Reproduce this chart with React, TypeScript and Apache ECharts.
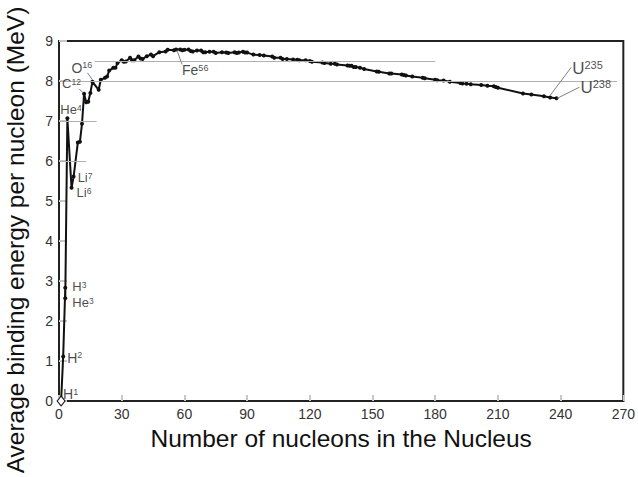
import React, { useEffect, useRef } from "react";
import * as echarts from "echarts";

// Mass number A of common nuclides and their average binding energy per nucleon (MeV)
const massNumber = [
  1, 2, 3, 3, 4, 6, 7, 9, 10, 11, 12, 13, 14, 15, 16, 19, 20, 22, 23, 24, 26, 27, 28, 30, 31, 32, 34, 35, 36, 38,
  39, 40, 42, 44, 45, 48, 51, 52, 55, 56, 58, 59, 60, 62, 63, 64, 66, 68, 69, 70, 72, 74, 75, 78, 80, 81, 84, 85,
  86, 88, 89, 90, 93, 96, 98, 102, 103, 106, 107, 109, 112, 114, 115, 118, 120, 121, 126, 127, 130, 132, 133, 138,
  139, 140, 141, 142, 144, 146, 152, 153, 158, 159, 164, 165, 166, 169, 174, 175, 180, 181, 184, 187, 192, 193, 195,
  197, 202, 205, 208, 209, 210, 222, 226, 232, 235, 238,
];
const bindingEnergy = [
  0, 1.11, 2.83, 2.57, 7.07, 5.33, 5.61, 6.46, 6.48, 6.93, 7.68, 7.47, 7.48, 7.7, 7.98, 7.78, 8.03, 8.08, 8.11, 8.26,
  8.33, 8.33, 8.45, 8.52, 8.48, 8.49, 8.58, 8.52, 8.52, 8.61, 8.56, 8.55, 8.62, 8.66, 8.62, 8.72, 8.74, 8.78, 8.77,
  8.79, 8.79, 8.77, 8.78, 8.79, 8.75, 8.74, 8.76, 8.76, 8.72, 8.72, 8.73, 8.73, 8.7, 8.72, 8.71, 8.7, 8.72, 8.7,
  8.71, 8.73, 8.71, 8.71, 8.66, 8.65, 8.64, 8.61, 8.58, 8.58, 8.55, 8.55, 8.54, 8.53, 8.52, 8.52, 8.5, 8.48, 8.46,
  8.45, 8.43, 8.43, 8.41, 8.39, 8.38, 8.38, 8.35, 8.35, 8.33, 8.3, 8.24, 8.23, 8.19, 8.19, 8.16, 8.15, 8.14, 8.11,
  8.08, 8.07, 8.03, 8.02, 8.01, 7.98, 7.95, 7.94, 7.93, 7.92, 7.9, 7.88, 7.87, 7.85, 7.83, 7.69, 7.66, 7.62, 7.59,
  7.57,
];

// Labelled nuclides
const labelElement = ["H", "H", "H", "He", "He", "Li", "Li", "C", "O", "Fe", "U", "U"];
const labelMass = [1, 2, 3, 3, 4, 6, 7, 12, 16, 56, 235, 238];
const labelEnergy = [0, 1.11, 2.83, 2.57, 7.07, 5.33, 5.61, 7.68, 7.98, 8.79, 7.59, 7.57];

// Thin grey reference lines: level, from A, to A
const refLevel = [8.5, 8, 7, 6];
const refFrom = [17, 0, 0, 0];
const refTo = [180, 267, 18, 13];

// Axis ticks
const xMin = 0, xMax = 270, xStep = 30;
const yMin = 0, yMax = 9, yStep = 1;

const xTitle = "Number of nucleons in the Nucleus";
const yTitle = "Average binding energy per nucleon (MeV)";

// ---- layout / styles (not data) ----
const FONT = "'Liberation Sans', Arial, Helvetica, sans-serif";
const labelOffset: Record<string, [number, number]> = {
  H1: [2, -7], H2: [4, 1], H3: [7, -1], He3: [7, 4], He4: [-7, -9], Li6: [5, 5], Li7: [4, 1],
  C12: [-22, -10], O16: [-21, -14], Fe56: [6, 21], U235: [22, -29], U238: [24, -11],
};
const smallLabel: Record<string, boolean> = { He4: true, C12: true, Li7: true, Li6: true, H3: true, He3: true };
const leader: Record<string, [number, number, number, number]> = {
  C12: [-5, -5, -1, -1], O16: [-5, -9, 0, -2], Fe56: [1, 1, 6, 15], U235: [0, -2, 21, -30], U238: [1, 0, 23, -11],
};

export default function App() {
  const ref = useRef<HTMLDivElement>(null);
  useEffect(() => {
    if (!ref.current) return;
    document.body.style.margin = "0";
    const chart = echarts.init(ref.current, undefined, { renderer: "svg" });

    const curve = massNumber.map((a, i) => {
      if (i === 0)
        return {
          value: [a, bindingEnergy[i]],
          symbol: "diamond",
          symbolSize: [8, 10],
          itemStyle: { color: "#fff", borderColor: "#111", borderWidth: 1 },
        };
      return { value: [a, bindingEnergy[i]] };
    });

    const labels = labelElement.map((el, i) => {
      const key = el + labelMass[i];
      const style = el === "U" ? ["B", "S"] : smallLabel[key] ? ["m", "n"] : ["b", "s"];
      return {
        value: [labelMass[i], labelEnergy[i]],
        label: {
          show: true,
          position: "right",
          distance: 0,
          offset: labelOffset[key],
          formatter: `{${style[0]}|${el}}{${style[1]}|${labelMass[i]}}`,
        },
      };
    });

    const refLines = refLevel.map((lv, i) => [
      { coord: [refFrom[i], lv] },
      { coord: [refTo[i], lv] },
    ]);

    const txt = (size: number, lh: number, sup: boolean) => ({
      fontSize: size, color: "#1a1a1a", lineHeight: lh, fontFamily: FONT,
      textBorderWidth: 0, ...(sup ? { verticalAlign: "top" } : {}),
    });

    chart.setOption({
      animation: false,
      textStyle: { fontFamily: FONT },
      grid: {
        left: 59, right: 10, top: 41, bottom: 76,
        show: true, borderColor: "#222", borderWidth: 2, containLabel: false,
      },
      xAxis: {
        type: "value", min: xMin, max: xMax, interval: xStep,
        name: xTitle, nameLocation: "middle", nameGap: 20,
        nameTextStyle: { fontSize: 24.5, color: "#111", fontFamily: FONT },
        axisLine: { lineStyle: { color: "#222", width: 2 } },
        axisTick: { inside: true, length: 6, lineStyle: { color: "#c8c8c8", width: 2 } },
        axisLabel: { fontSize: 14, color: "#333", margin: 6 },
        splitLine: { show: false },
      },
      yAxis: {
        type: "value", min: yMin, max: yMax, interval: yStep,
        axisLine: { lineStyle: { color: "#222", width: 2 } },
        axisTick: { inside: true, length: 8, lineStyle: { color: "#c8c8c8", width: 2 } },
        axisLabel: { fontSize: 14, color: "#333", margin: 6 },
        splitLine: { show: false },
      },
      series: [
        {
          type: "line", data: [], z: 1, silent: true,
          markLine: {
            silent: true, symbol: "none", label: { show: false },
            lineStyle: { color: "#b0b0b0", width: 1, type: "solid" },
            data: refLines,
          },
        },
        {
          type: "line", data: curve, z: 3, symbol: "circle", symbolSize: 4, showSymbol: true,
          itemStyle: { color: "#111" }, lineStyle: { color: "#111", width: 2 }, silent: true,
        },
        {
          type: "scatter", data: labels, z: 6, symbolSize: 0, silent: true,
          itemStyle: { color: "rgba(0,0,0,0)" },
          label: {
            color: "#1a1a1a", textBorderWidth: 0,
            rich: {
              b: txt(14, 14, false),
              s: txt(9, 14, true),
              m: txt(13, 12, false),
              n: txt(8.5, 12, true),
              B: txt(17, 17, false),
              S: txt(11, 17, true),
            },
          },
        },
      ],
    });

    const lines: any[] = [];
    labelElement.forEach((el, i) => {
      const key = el + labelMass[i];
      const l = leader[key];
      if (!l) return;
      const p = chart.convertToPixel({ gridIndex: 0 }, [labelMass[i], labelEnergy[i]]) as number[];
      lines.push({
        type: "line", silent: true, z: 5,
        shape: { x1: p[0] + l[0], y1: p[1] + l[1], x2: p[0] + l[2], y2: p[1] + l[3] },
        style: { stroke: "#808080", lineWidth: 1 },
      });
    });
    lines.push({
      type: "text", x: 15, y: 240, rotation: Math.PI / 2,
      style: { text: yTitle, fontSize: 24.5, fontFamily: FONT, fill: "#111", align: "center", verticalAlign: "middle" },
    });
    chart.setOption({ graphic: lines });

    return () => chart.dispose();
  }, []);
  return <div ref={ref} style={{ width: 638, height: 477 }} />;
}
